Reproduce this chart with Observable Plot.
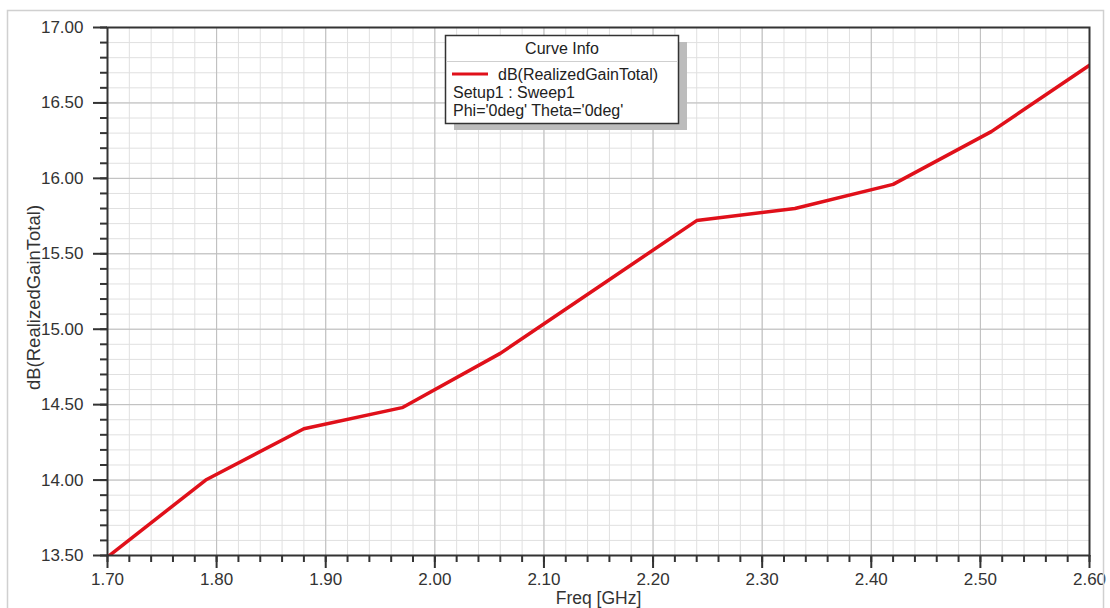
<!DOCTYPE html>
<html>
<head>
<meta charset="utf-8">
<script src="https://cdn.jsdelivr.net/npm/d3@7"></script>
<script src="https://cdn.jsdelivr.net/npm/@observablehq/plot@0.6"></script>
<style>
  html, body { margin: 0; padding: 0; background: #fff; }
  #chart { width: 1110px; height: 608px; overflow: hidden; }
</style>
</head>
<body>
<div id="chart"></div>
<script>
// ---- data ----
const freq = [1.70, 1.79, 1.88, 1.97, 2.06, 2.15, 2.24, 2.33, 2.42, 2.51, 2.60];
const gain = [13.49, 14.00, 14.34, 14.48, 14.84, 15.28, 15.72, 15.80, 15.96, 16.31, 16.75];
const xTicks = [1.70, 1.80, 1.90, 2.00, 2.10, 2.20, 2.30, 2.40, 2.50, 2.60];
const yTicks = [13.50, 14.00, 14.50, 15.00, 15.50, 16.00, 16.50, 17.00];
const xLabel = "Freq [GHz]";
const yLabel = "dB(RealizedGainTotal)";
const legendTitle = "Curve Info";
const legendLines = ["dB(RealizedGainTotal)", "Setup1 : Sweep1", "Phi='0deg' Theta='0deg'"];

const data = freq.map((f, i) => ({freq: f, gain: gain[i]}));
const xMinor = d3.range(0, 46).map(i => 1.70 + i * 0.02);
const yMinor = d3.range(0, 36).map(i => 13.5 + i * 0.1);

const FONT = "'Liberation Sans', Arial, Helvetica, sans-serif";
const TXT = "#333";

const plot = Plot.plot({
  width: 1110,
  height: 608,
  marginLeft: 107,
  marginRight: 21,
  marginTop: 27,
  marginBottom: 53,
  style: {fontFamily: FONT, fontSize: "17px", color: TXT, background: "#fff"},
  x: {domain: [1.70, 2.60]},
  y: {domain: [13.5, 17.0]},
  marks: [
    Plot.gridX(xMinor, {stroke: "#e0e0e0", strokeOpacity: 1}),
    Plot.gridY(yMinor, {stroke: "#e0e0e0", strokeOpacity: 1}),
    Plot.gridX(xTicks, {stroke: "#bdbdbd", strokeOpacity: 1}),
    Plot.gridY(yTicks, {stroke: "#bdbdbd", strokeOpacity: 1}),
    Plot.line(data, {x: "freq", y: "gain", stroke: "#e0101a", strokeWidth: 3.5, clip: true}),
    Plot.frame({stroke: "#333", strokeWidth: 2}),
    Plot.axisX(xMinor, {tickSize: 7, tickFormat: () => "", stroke: "#333", strokeWidth: 2, label: null}),
    Plot.axisY(yMinor, {tickSize: 7, tickFormat: () => "", stroke: "#333", strokeWidth: 2, label: null}),
    Plot.axisX(xTicks, {tickSize: 13, tickPadding: 4, tickFormat: d3.format(".2f"), stroke: "#333", strokeWidth: 2, fontSize: 17, fill: TXT, label: null}),
    Plot.axisY(yTicks, {tickSize: 14, tickPadding: 10, tickFormat: d3.format(".2f"), stroke: "#333", strokeWidth: 2, fontSize: 17, fill: TXT, label: null}),
    Plot.text([yLabel], {text: d => d, frameAnchor: "left", dx: -68, dy: 6, rotate: -90, lineAnchor: "bottom", textAnchor: "middle", fontSize: 18.5, fill: TXT}),
    Plot.text([xLabel], {text: d => d, frameAnchor: "bottom", dy: 48, lineAnchor: "bottom", textAnchor: "middle", fontSize: 17.5, fill: TXT})
  ]
});

document.getElementById("chart").appendChild(plot);

// ---- outer border and legend box ----
const svg = d3.select(plot);
svg.append("rect")
  .attr("x", 7.5).attr("y", 10.5).attr("width", 1096).attr("height", 640)
  .attr("fill", "none").attr("stroke", "#d0d0d0").attr("stroke-width", 1.5);

const lg = svg.append("g").attr("font-family", FONT).attr("font-size", 16).attr("fill", "#222")
  .attr("text-anchor", "start");
lg.append("rect").attr("x", 454).attr("y", 42).attr("width", 233).attr("height", 88)
  .attr("fill", "#bcbcbc");
lg.append("rect").attr("x", 445.5).attr("y", 35.5).attr("width", 233).attr("height", 88)
  .attr("fill", "#fff").attr("stroke", "#333").attr("stroke-width", 1.5);
lg.append("line").attr("x1", 446).attr("x2", 678).attr("y1", 61.5).attr("y2", 61.5)
  .attr("stroke", "#cfcfcf").attr("stroke-width", 1);
lg.append("text").attr("x", 562).attr("y", 54).attr("text-anchor", "middle").text(legendTitle);
lg.append("line").attr("x1", 452).attr("x2", 488).attr("y1", 74).attr("y2", 74)
  .attr("stroke", "#e0101a").attr("stroke-width", 3);
lg.append("text").attr("x", 498).attr("y", 80).attr("text-anchor", "start").text(legendLines[0]);
lg.append("text").attr("x", 453).attr("y", 98).attr("text-anchor", "start").text(legendLines[1]);
lg.append("text").attr("x", 453).attr("y", 116).attr("text-anchor", "start").text(legendLines[2]);
</script>
</body>
</html>
